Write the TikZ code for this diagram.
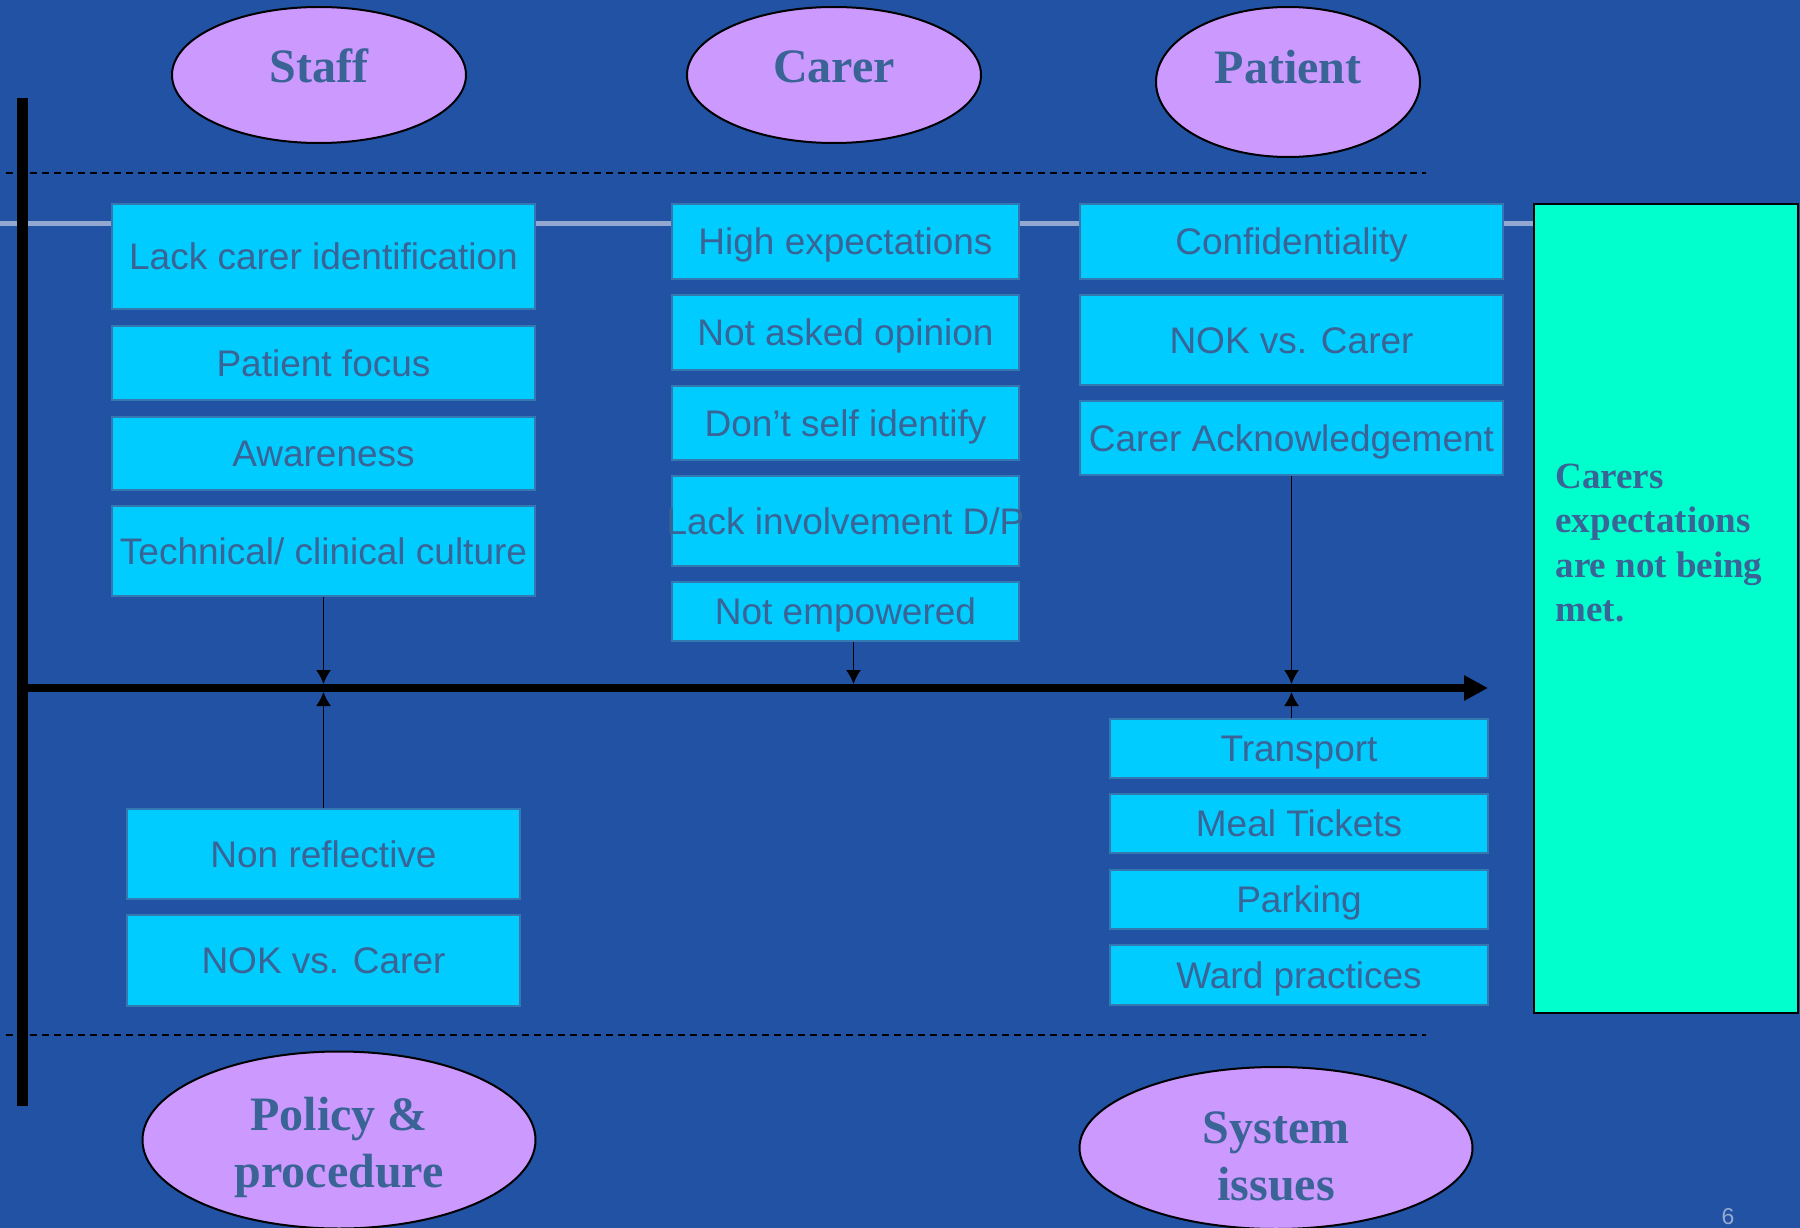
\documentclass[tikz,border=0pt]{standalone}
\usepackage{fontspec}
\setmainfont{Liberation Serif}
\newfontfamily\boxfont{Liberation Sans}
\usetikzlibrary{arrows.meta,shapes.geometric}

\definecolor{bgblue}{RGB}{33,82,163}
\definecolor{boxfill}{RGB}{0,204,255}
\definecolor{boxline}{RGB}{52,120,178}
\definecolor{ink}{RGB}{58,99,150}
\definecolor{lilac}{RGB}{204,153,255}
\definecolor{mint}{RGB}{0,255,204}
\definecolor{railgrey}{RGB}{146,168,209}

\tikzset{
	issue/.style={draw=boxline, line width=2pt, fill=boxfill, text=ink, inner sep=0pt,
		font=\boxfont\fontsize{37}{44}\selectfont, text height=26.5pt, text depth=0pt},
	oval/.style={ellipse, draw=black, line width=2pt, fill=lilac, text=ink, inner sep=0pt,
		font=\bfseries\fontsize{48}{57}\selectfont, align=center},
	ovaltext/.style={text=ink, font=\bfseries\fontsize{48}{57}\selectfont, align=center},
	link/.style={line width=1.6pt, -{Latex[length=14pt,width=15pt]}},
	guide/.style={line width=2.2pt, dash pattern=on 7pt off 5pt},
}

\begin{document}
\begin{tikzpicture}[
		x={(1pt,0pt)},
		y={(0pt,-1pt)},
	]
	\useasboundingbox (0,0) rectangle (1800,1228);
	\fill[bgblue] (0,0) rectangle (1800,1228);

	% dashed bands
	\draw[guide] (6,173) -- (1426,173);
	\draw[guide] (6,1035) -- (1426,1035);

	% outcome
	\node[draw=black, line width=2.5pt, fill=mint, minimum width=264pt, minimum height=809pt] (goal) at (1666,608.5) {};
	\node[anchor=north west, align=left, text=ink, font=\bfseries\fontsize{37}{44.5}\selectfont] (goaltext) at (1552,460)
		{Carers\\expectations\\are not being\\met.};

	\draw[railgrey, line width=5pt] (0,223) -- (goal.west |- 0,223);

	% axes
	\coordinate (top) at (22,98);
	\coordinate (bottom) at (22,1106);
	\coordinate (origin) at (18,688);
	\coordinate (head) at (1488,688);
	\coordinate (above) at (0,684);
	\coordinate (below) at (0,692);
	\draw[line width=11pt] (top) -- (bottom);
	\draw[line width=8pt, -{Triangle[length=24pt,width=24pt]}] (origin) -- (head);

	% categories
	\node[oval, minimum width=294pt, minimum height=136pt, text height=32pt, text depth=16pt] (staff) at (319,75) {Staff};
	\node[oval, minimum width=294pt, minimum height=136pt, text height=32pt, text depth=16pt] (carer) at (834,75) {Carer};
	\node[oval, minimum width=264pt, minimum height=150pt, text height=32pt, text depth=28pt] (patient) at (1288,82) {Patient};
	\node[oval, minimum width=393pt, minimum height=177pt] (policy) at (339,1140) {};
	\node[ovaltext] (policytext) at ([yshift=-7pt]policy.center) {Policy \&\\procedure};
	\node[oval, minimum width=393pt, minimum height=162pt] (system) at (1276,1148) {};
	\node[ovaltext] (systemtext) at ([yshift=-8pt]system.center) {System\\issues};

	% causes
	\foreach \n/\y/\h/\t in {s1/256.5/105/{Lack carer identification}, s2/363/74/{Patient focus},
		s3/453.5/73/{Awareness}, s4/551/90/{Technical/ clinical culture}}{
		\node[issue, minimum width=423pt, minimum height=\h*1pt] (\n) at (323.5,\y) {\t};
	}
	\foreach \n/\y/\h/\t in {c1/241.5/75/{High expectations}, c2/332.5/75/{Not asked opinion},
		c3/423/74/{Don’t self identify}, c4/521/90/{\makebox[0pt]{Lack involvement D/P}},
		c5/611.5/59/{Not empowered}}{
		\node[issue, minimum width=347pt, minimum height=\h*1pt] (\n) at (845.5,\y) {\t};
	}
	\foreach \n/\y/\h/\t in {p1/241.5/75/{Confidentiality}, p2/340/90/{NOK vs. Carer},
		p3/438/74/{Carer Acknowledgement}}{
		\node[issue, minimum width=423pt, minimum height=\h*1pt] (\n) at (1291.5,\y) {\t};
	}
	\foreach \n/\y/\h/\t in {r1/854/90/{Non reflective}, r2/960.5/91/{NOK vs. Carer}}{
		\node[issue, minimum width=393pt, minimum height=\h*1pt] (\n) at (323.5,\y) {\t};
	}
	\foreach \n/\y/\h/\t in {y1/748.5/59/{Transport}, y2/823.5/59/{Meal Tickets},
		y3/899.5/59/{Parking}, y4/975/60/{Ward practices}}{
		\node[issue, minimum width=378pt, minimum height=\h*1pt] (\n) at (1299,\y) {\t};
	}

	% links to the axis
	\draw[link] (s4.south) -- (s4.south |- above);
	\draw[link] (r1.north) -- (r1.north |- below);
	\draw[link] ([xshift=8pt]c5.south) -- ([xshift=8pt]c5.south |- above);
	\draw[link] (p3.south) -- (p3.south |- above);
	\draw[link] (p3.south |- y1.north) -- (p3.south |- below);

	\node[anchor=north, text={rgb,255:red,150;green,170;blue,210}, font=\boxfont\fontsize{23}{23}\selectfont] (page) at (1728,1205) {6};
\end{tikzpicture}
\end{document}
